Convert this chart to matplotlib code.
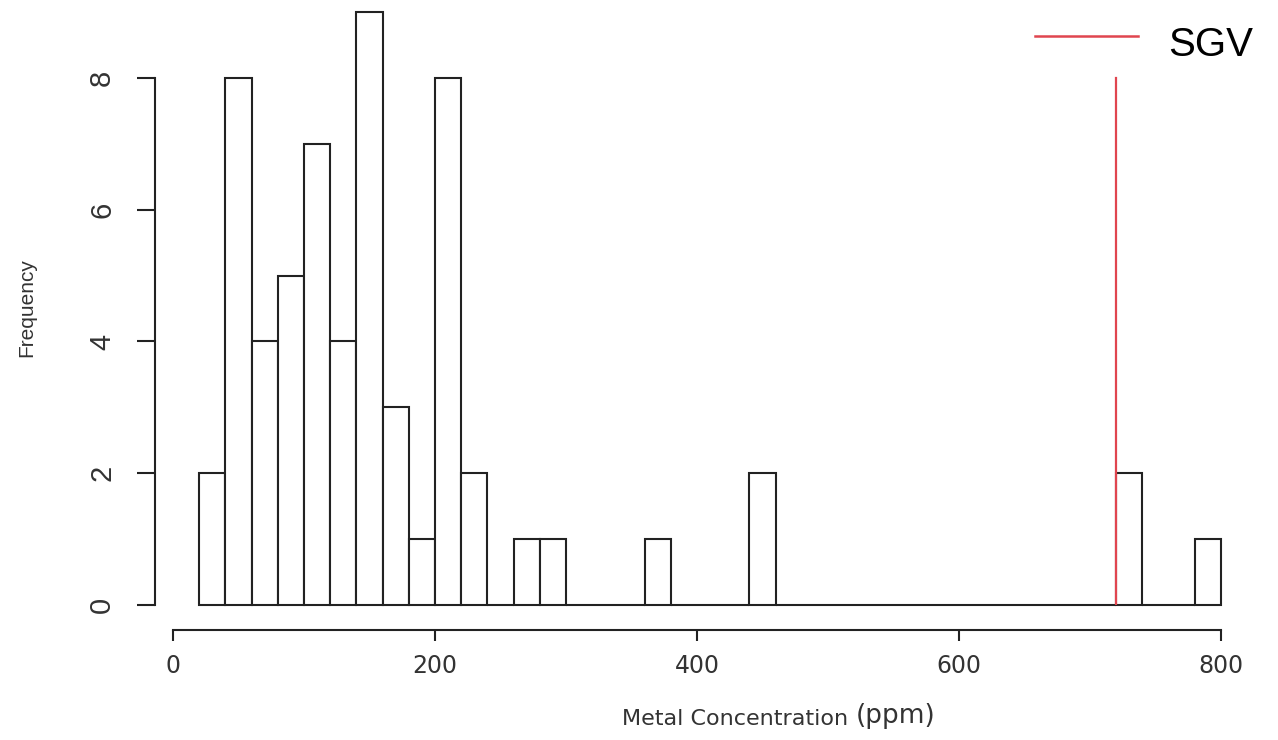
import matplotlib
matplotlib.use("Agg")
import matplotlib.pyplot as plt
from matplotlib.lines import Line2D
import numpy as np

# Histogram data (bin edges every 20 ppm from 20 to 800)
bin_edges = list(range(20, 801, 20))
counts = [2, 8, 4, 5, 7, 4, 9, 3, 1, 8,
          2, 0, 1, 1, 0, 0, 0, 1, 0, 0,
          0, 2, 0, 0, 0, 0, 0, 0, 0, 0,
          0, 0, 0, 0, 0, 2, 0, 0, 1]
sgv_value = 720
sgv_top = 8
sgv_label = "SGV"
x_ticks = [0, 200, 400, 600, 800]
y_ticks = [0, 2, 4, 6, 8]

W, H = 1278, 740
RED = "#e0454f"
fig = plt.figure(figsize=(W / 100, H / 100), dpi=100)
ax = fig.add_axes([173 / W, (H - 605) / H, (1221 - 173) / W, (605 - 12) / H])

edges = np.array(bin_edges)
lefts = edges[:-1]
widths = np.diff(edges)
ax.bar(lefts, counts, width=widths, align="edge", facecolor="white",
       edgecolor="#222222", linewidth=1.5, clip_on=False)

ax.plot([sgv_value, sgv_value], [0, sgv_top], color=RED, linewidth=1.6, zorder=3)

ax.set_xlim(0, 800)
ax.set_ylim(0, 9)

for s in ["top", "right"]:
    ax.spines[s].set_visible(False)
ax.spines["left"].set_position(("outward", 13))
ax.spines["bottom"].set_position(("outward", 18))
ax.spines["left"].set_bounds(0, 8)
ax.spines["bottom"].set_bounds(0, 800)
for s in ["left", "bottom"]:
    ax.spines[s].set_linewidth(1.5)
    ax.spines[s].set_color("#222222")

ax.set_xticks(x_ticks)
ax.set_yticks(y_ticks)
ax.tick_params(axis="y", length=13, width=1.5, color="#222222", pad=15)
ax.tick_params(axis="x", length=8, width=1.5, color="#222222", pad=9)
for lab in ax.get_yticklabels():
    lab.set_rotation(90)
    lab.set_va("center")
    lab.set_fontsize(21)
    lab.set_family("Liberation Sans")
    lab.set_color("#333333")
for lab in ax.get_xticklabels():
    lab.set_fontsize(17)
    lab.set_family("DejaVu Sans")
    lab.set_color("#333333")

fig.text(27 / W, 1 - 308 / H, "Frequency", rotation=90, ha="center", va="center",
         fontsize=15, family="Liberation Sans", color="#333333")
fig.text(848 / W, 1 - 719 / H, "Metal Concentration", ha="right", va="center",
         fontsize=16, family="DejaVu Sans", color="#333333")
fig.text(856 / W, 1 - 716 / H, "(ppm)", ha="left", va="center",
         fontsize=19, family="DejaVu Sans", color="#333333")

# Legend (R-style, placed at top right of the figure)
fig.add_artist(Line2D([1035 / W, 1138 / W], [1 - 36 / H, 1 - 36 / H],
                      transform=fig.transFigure, color=RED, linewidth=1.8))
fig.text(1168 / W, 1 - 45 / H, sgv_label, ha="left", va="center",
         fontsize=29, family="Liberation Sans", color="black")

fig.savefig("out.png", dpi=100, facecolor="white")
